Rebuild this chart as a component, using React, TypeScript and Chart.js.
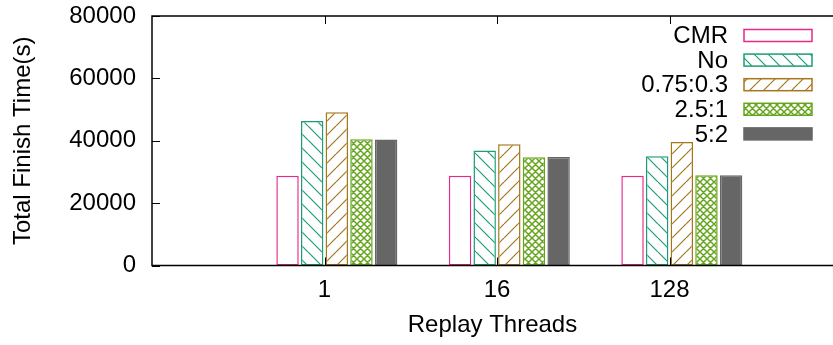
import React, { useEffect, useRef } from 'react';
import { Chart, registerables } from 'chart.js';

Chart.register(...registerables);

// ---- data ----
const categories = ['1', '16', '128'];
const seriesNames = ['CMR', 'No', '0.75:0.3', '2.5:1', '5:2'];
const cmrValues = [28800, 28800, 28800];
const noValues = [46300, 36900, 35000];
const r075Values = [49100, 38900, 39600];
const r25Values = [40500, 34700, 28900];
const r52Values = [40400, 34800, 28900];
const yTickValues = [0, 20000, 40000, 60000, 80000];

const seriesValues = [cmrValues, noValues, r075Values, r25Values, r52Values];

// ---- styles ----
const colors = ['#e7298a', '#1b9e77', '#a6761d', '#66a61e', '#666666'];
const fillKinds = ['none', 'back', 'fwd', 'cross', 'solid'];
const FONT = { family: '"Liberation Sans", Arial, sans-serif', size: 24 };
const clusterSlots = 7; // 5 bars + gap of 2
const tickShift = 0.5 / clusterSlots;
const xMin = -1 - tickShift;
const xMax = xMin + 681 / 172.5;

function makeFill(kind: string, color: string): any {
  if (kind === 'none') return '#ffffff';
  if (kind === 'solid') return color;
  const p = kind === 'cross' ? 7 : 14;
  const c = document.createElement('canvas');
  c.width = p;
  c.height = p;
  const g = c.getContext('2d')!;
  g.fillStyle = '#ffffff';
  g.fillRect(0, 0, p, p);
  g.strokeStyle = color;
  g.lineWidth = kind === 'cross' ? 1.5 : 1.2;
  g.beginPath();
  if (kind === 'back' || kind === 'cross') {
    for (const k of [-p, 0, p]) {
      g.moveTo(k, 0);
      g.lineTo(k + p, p);
    }
  }
  if (kind === 'fwd' || kind === 'cross') {
    for (const k of [0, p, 2 * p]) {
      g.moveTo(k, 0);
      g.lineTo(k - p, p);
    }
  }
  g.stroke();
  return g.createPattern(c, 'repeat');
}

export default function App() {
  const ref = useRef<HTMLCanvasElement | null>(null);

  useEffect(() => {
    if (!ref.current) return;
    const fills = fillKinds.map((k, j) => makeFill(k, colors[j]));

    const framePlugin = {
      id: 'gnuFrame',
      afterDatasetsDraw(chart: any) {
        const { ctx, chartArea: a, scales } = chart;
        ctx.save();
        ctx.strokeStyle = '#000';
        ctx.lineWidth = 1.5;
        ctx.beginPath();
        ctx.moveTo(a.right + 2, a.top);
        ctx.lineTo(a.left, a.top);
        ctx.lineTo(a.left, a.bottom);
        ctx.lineTo(a.right + 2, a.bottom);
        ctx.stroke();
        ctx.lineWidth = 1;
        ctx.beginPath();
        scales.y.ticks.forEach((t: any) => {
          const y = Math.round(scales.y.getPixelForValue(t.value)) + 0.5;
          ctx.moveTo(a.left, y);
          ctx.lineTo(a.left + 8, y);
        });
        scales.x.ticks.forEach((t: any) => {
          const x = Math.round(scales.x.getPixelForValue(t.value)) + 0.5;
          ctx.moveTo(x, a.bottom);
          ctx.lineTo(x, a.bottom - 8);
          ctx.moveTo(x, a.top);
          ctx.lineTo(x, a.top + 8);
        });
        ctx.stroke();

        // legend (text right-aligned, sample box on the right)
        ctx.font = `${FONT.size}px ${FONT.family}`;
        ctx.textAlign = 'right';
        ctx.textBaseline = 'middle';
        seriesNames.forEach((name, j) => {
          const cy = a.top + 19.5 + j * 24.6;
          ctx.fillStyle = '#000';
          ctx.fillText(name, a.right - 105, cy + 1);
          const bx = a.right - 89;
          const by = cy - 6;
          ctx.fillStyle = fills[j];
          ctx.fillRect(bx, by, 68, 12);
          ctx.strokeStyle = colors[j];
          ctx.lineWidth = 1.5;
          ctx.strokeRect(bx, by, 68, 12);
        });
        ctx.restore();
      },
    };

    const chart = new Chart(ref.current, {
      type: 'bar',
      data: {
        datasets: seriesNames.map((name, j) => ({
          label: name,
          data: seriesValues[j].map((v, i) => ({ x: i, y: v })),
          backgroundColor: fills[j],
          borderColor: colors[j],
          borderWidth: 1.5,
          borderSkipped: false,
          categoryPercentage: 5 / clusterSlots,
          barPercentage: 0.91,
        })) as any,
      },
      options: {
        animation: false,
        responsive: false,
        maintainAspectRatio: false,
        layout: { padding: { top: 16, right: 0, bottom: 0, left: 0 } },
        plugins: {
          legend: { display: false },
          tooltip: { enabled: false },
        },
        scales: {
          x: {
            type: 'linear',
            offset: false,
            min: xMin,
            max: xMax,
            afterBuildTicks: (s: any) => {
              s.ticks = categories.map((_, i) => ({ value: i - tickShift }));
            },
            afterFit: (s: any) => {
              s.height = 79.5;
              s.paddingLeft = 0;
              s.paddingRight = 0;
            },
            grid: { display: false, drawTicks: false },
            border: { display: false },
            ticks: {
              callback: (_v: any, i: number) => categories[i],
              padding: 10,
              font: FONT,
              color: '#000',
              maxRotation: 0,
              autoSkip: false,
            },
            title: {
              display: true,
              text: 'Replay Threads',
              font: FONT,
              color: '#000',
              padding: { top: 0, bottom: 5 },
            },
          },
          y: {
            type: 'linear',
            min: 0,
            max: 80000,
            afterBuildTicks: (s: any) => {
              s.ticks = yTickValues.map((v) => ({ value: v }));
            },
            afterFit: (s: any) => {
              s.width = 152;
              s.paddingTop = 0;
              s.paddingBottom = 0;
            },
            grid: { display: false, drawTicks: false },
            border: { display: false },
            ticks: {
              callback: (v: any) => String(v),
              padding: 16,
              font: FONT,
              color: '#000',
            },
            title: {
              display: true,
              text: 'Total Finish Time(s)',
              font: FONT,
              color: '#000',
              padding: { top: 9, bottom: 0 },
            },
          },
        },
      } as any,
      plugins: [framePlugin],
    });
    return () => chart.destroy();
  }, []);

  return (
    <div style={{ position: 'absolute', left: 0, top: 0, width: 833, height: 345, background: '#fff' }}>
      <canvas ref={ref} width={833} height={345} style={{ display: 'block' }} />
    </div>
  );
}
